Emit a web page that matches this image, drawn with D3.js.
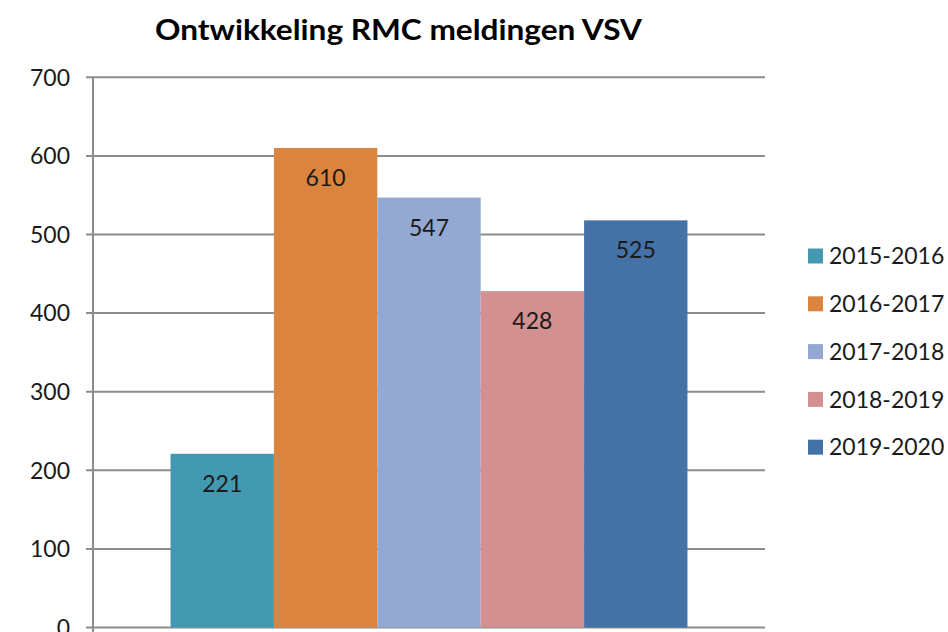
<!DOCTYPE html>
<html><head><meta charset="utf-8">
<script src="https://cdn.jsdelivr.net/npm/d3@7"></script>
<style>html,body{margin:0;padding:0;background:#fff;}svg{display:block;}</style>
</head><body>
<svg id="chart" width="948" height="632"></svg>
<script>
const title = "Ontwikkeling RMC meldingen VSV";
const seriesNames = ["2015-2016", "2016-2017", "2017-2018", "2018-2019", "2019-2020"];
const barValues = [221, 610, 547, 428, 518];
const dataLabels = ["221", "610", "547", "428", "525"];
const seriesColors = ["#4299b0", "#db843d", "#94a9d1", "#d29190", "#4572a6"];
const yTicks = [0, 100, 200, 300, 400, 500, 600, 700];

(function () {
const svg = d3.select("#chart");
const font = "Lato, 'Open Sans', sans-serif";
const plotLeft = 93, plotRight = 765, plotTop = 77.3, plotBottom = 627.5;

const y = d3.scaleLinear().domain([0, 700]).range([plotBottom, plotTop]);
const x = d3.scaleBand().domain(seriesNames).range([plotLeft, plotRight]).paddingInner(0).paddingOuter(0.75);

// gridlines
svg.append("g").selectAll("line").data(yTicks).join("line")
  .attr("x1", plotLeft - 7).attr("x2", plotRight)
  .attr("y1", d => y(d)).attr("y2", d => y(d))
  .attr("stroke", "#8c8c8c").attr("stroke-width", 2);

// y axis line
svg.append("line").attr("x1", plotLeft).attr("x2", plotLeft)
  .attr("y1", plotTop).attr("y2", plotBottom + 5)
  .attr("stroke", "#8c8c8c").attr("stroke-width", 2);

// y tick labels
svg.append("g").selectAll("text").data(yTicks).join("text")
  .attr("x", 70).attr("y", d => y(d)).attr("dy", "0.36em")
  .attr("text-anchor", "end").attr("font-family", font).attr("font-size", 23)
  .attr("fill", "#1a1a1a").text(d => d);

// bars
const data = seriesNames.map((s, i) => ({s, v: barValues[i], label: dataLabels[i], c: seriesColors[i]}));
svg.append("g").selectAll("rect").data(data).join("rect")
  .attr("x", d => x(d.s)).attr("width", x.bandwidth())
  .attr("y", d => y(d.v)).attr("height", d => y(0) - y(d.v))
  .attr("fill", d => d.c);

// data labels
svg.append("g").selectAll("text").data(data).join("text")
  .attr("x", d => x(d.s) + x.bandwidth() / 2).attr("y", d => y(d.v) + 38)
  .attr("text-anchor", "middle").attr("font-family", font).attr("font-size", 23)
  .attr("fill", "#1a1a1a").text(d => d.label);

// title
svg.append("text").attr("x", 398.5).attr("y", 40)
  .attr("text-anchor", "middle").attr("font-family", font).attr("font-weight", "bold")
  .attr("font-size", 29).attr("textLength", 487).attr("lengthAdjust", "spacingAndGlyphs")
  .attr("fill", "#000").text(title);

// legend
const lg = svg.append("g").selectAll("g").data(data).join("g")
  .attr("transform", (d, i) => `translate(808, ${256 + i * 47.8})`);
lg.append("rect").attr("x", 0).attr("y", -7.5).attr("width", 15).attr("height", 15).attr("fill", d => d.c);
lg.append("text").attr("x", 21).attr("y", 0).attr("dy", "0.36em")
  .attr("font-family", font).attr("font-size", 23).attr("fill", "#1a1a1a").text(d => d.s);
})();
</script>
</body></html>
